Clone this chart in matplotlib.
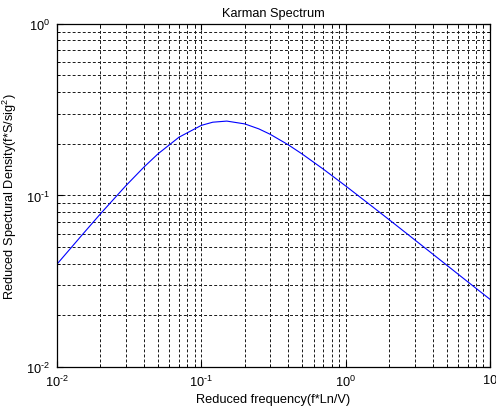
import matplotlib
matplotlib.use("Agg")
import matplotlib.pyplot as plt
from matplotlib.ticker import LogLocator, NullFormatter, FixedLocator, FixedFormatter

plt.rcParams['font.family'] = ['Liberation Sans', 'DejaVu Sans']
plt.rcParams['mathtext.fontset'] = 'custom'
plt.rcParams['mathtext.rm'] = 'Liberation Sans'
plt.rcParams['mathtext.it'] = 'Liberation Sans'

# Reduced frequency (f*Ln/V) and reduced spectral density (f*S/sig^2)
reduced_freq = [0.01, 0.015, 0.02, 0.03, 0.04, 0.05, 0.07, 0.1, 0.12, 0.15,
                0.2, 0.25, 0.3, 0.4, 0.5, 0.7, 1.0, 1.5, 2.0, 3.0, 4.0, 5.0,
                7.0, 10.0]
spectral_density = [0.0398, 0.0592, 0.0782, 0.1140, 0.1463, 0.1746, 0.2185,
                    0.2561, 0.2672, 0.2712, 0.2611, 0.2443, 0.2271, 0.1973,
                    0.1742, 0.1423, 0.1135, 0.0872, 0.0722, 0.0552, 0.0456,
                    0.0393, 0.0314, 0.0248]

x_ticks = [0.01, 0.1, 1, 10]
x_tick_labels = [r'$\mathdefault{10^{\text{-}2}}$', r'$\mathdefault{10^{\text{-}1}}$',
                 r'$\mathdefault{10^{0}}$', '10']
y_ticks = [0.01, 0.1, 1]
y_tick_labels = [r'$\mathdefault{10^{\text{-}2}}$', r'$\mathdefault{10^{\text{-}1}}$',
                 r'$\mathdefault{10^{0}}$']

fig = plt.figure(figsize=(4.96, 4.14), dpi=100)
ax = fig.add_axes([0.115, 0.111, 0.873, 0.829])

ax.loglog(reduced_freq, spectral_density, color=(0, 0, 1), lw=0.8)
ax.set_xlim(1e-2, 10)
ax.set_ylim(1e-2, 1)

ax.xaxis.set_major_locator(FixedLocator(x_ticks))
ax.xaxis.set_major_formatter(FixedFormatter(x_tick_labels))
ax.yaxis.set_major_locator(FixedLocator(y_ticks))
ax.yaxis.set_major_formatter(FixedFormatter(y_tick_labels))
for axis in (ax.xaxis, ax.yaxis):
    axis.set_minor_locator(LogLocator(base=10, subs=range(2, 10), numticks=10))
    axis.set_minor_formatter(NullFormatter())

ax.grid(True, which='both', color='#181818', linestyle=(0, (3, 2.2)), lw=0.7)
ax.tick_params(which='both', direction='in', top=True, right=True,
               labelsize=9.2, color='black', pad=5)
ax.tick_params(which='major', length=4)
ax.tick_params(which='minor', length=2)
for s in ax.spines.values():
    s.set_linewidth(0.9)

ax.set_title('Karman Spectrum', fontsize=9.2, pad=6)
ax.set_xlabel('Reduced frequency(f*Ln/V)', fontsize=9.2, labelpad=3)
ax.set_ylabel('Reduced Spectural Density(f*S/sig$^2$)', fontsize=9.2)
ax.yaxis.set_label_coords(-0.088, 0.5)

fig.savefig('out.png', dpi=100, facecolor='white')
